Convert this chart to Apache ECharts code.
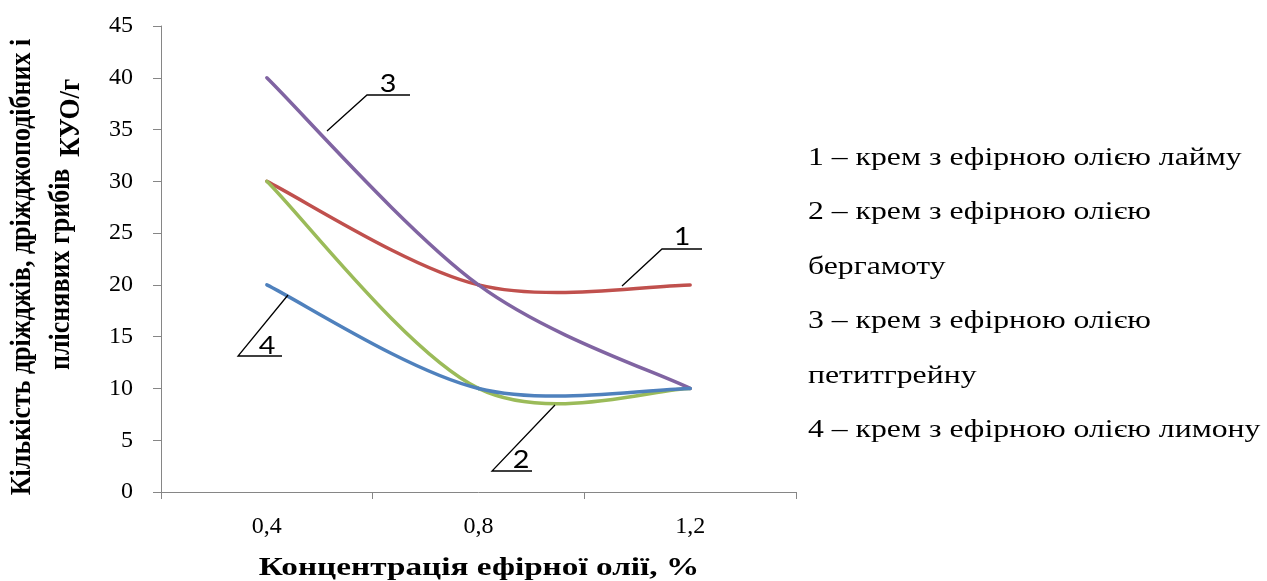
<!DOCTYPE html>
<html><head><meta charset="utf-8">
<script src="https://cdn.jsdelivr.net/npm/echarts@6/dist/echarts.min.js"></script>
<style>html,body{margin:0;padding:0;background:#fff}#c{width:1267px;height:581px}</style>
</head><body><div id="c"></div>
<script>
const categories = ['0,4', '0,8', '1,2'];
const s1 = [30, 20, 20]; // лайму
const s2 = [30, 10, 10]; // бергамоту
const s3 = [40, 20, 10]; // петитгрейну
const s4 = [20, 10, 10]; // лимону
const yTicks = {min: 0, max: 45, interval: 5};
const legendLines = [
  '1 – крем з ефірною олією лайму',
  '2 – крем з ефірною олією',
  'бергамоту',
  '3 – крем з ефірною олією',
  'петитгрейну',
  '4 – крем з ефірною олією лимону'
];
const yName1 = 'Кількість дріжджів, дріжджоподібних і';
const yName2 = 'пліснявих грибів';
const yName3 = 'КУО/г';
const xName = 'Концентрація ефірної олії, %';

const serif = '"Liberation Serif", "DejaVu Serif", serif';
const axisColor = '#868686';
const chart = echarts.init(document.getElementById('c'));

// Excel-style smoothed line (Catmull-Rom, tension 1/6) drawn through the axis scales
function smoothSeries(values, color) {
  return {
    type: 'custom',
    data: values.map(function (v, i) { return [i, v]; }),
    encode: {x: 0, y: 1},
    z: 3,
    renderItem: function (params, api) {
      const i = params.dataIndexInside;
      const n = params.dataInsideLength;
      if (i >= n - 1) return null;
      function pt(k) {
        k = Math.max(0, Math.min(n - 1, k));
        return api.coord([api.value(0, k), api.value(1, k)]);
      }
      const p0 = pt(i - 1), p1 = pt(i), p2 = pt(i + 1), p3 = pt(i + 2);
      return {
        type: 'bezierCurve',
        shape: {
          x1: p1[0], y1: p1[1], x2: p2[0], y2: p2[1],
          cpx1: p1[0] + (p2[0] - p0[0]) / 6, cpy1: p1[1] + (p2[1] - p0[1]) / 6,
          cpx2: p2[0] - (p3[0] - p1[0]) / 6, cpy2: p2[1] - (p3[1] - p1[1]) / 6
        },
        style: {stroke: color, lineWidth: 3.5, fill: null, lineCap: 'round'}
      };
    }
  };
}

// annotation callouts (leader line + number)
function callout(num, ux1, ux2, uy, dx, dy, tx, ty) {
  return [
    {type: 'polyline', shape: {points: [[ux2, uy], [ux1, uy], [dx, dy]]},
      style: {stroke: '#000', lineWidth: 1.3, fill: null}, z: 10},
    {type: 'text', x: tx, y: ty, scaleX: 1.15, style: {text: num, font: '25px Lato, "Open Sans", sans-serif',
      fill: '#000', align: 'center', verticalAlign: 'middle'}, z: 10}
  ];
}

const graphics = [].concat(
  callout('3', 367, 410, 95, 327, 131, 388, 84),
  callout('1', 662, 702, 249, 622, 286, 682, 237),
  callout('4', 238, 282, 356, 288, 295, 267, 346),
  callout('2', 492, 532, 471, 555, 405, 521, 460)
);
legendLines.forEach(function (t, i) {
  graphics.push({type: 'text', x: 808, y: 158 + i * 54.5, scaleX: 1.22,
    style: {text: t, font: '26px ' + serif, fill: '#000', verticalAlign: 'middle'}});
});
graphics.push({type: 'text', x: 23, y: 267, rotation: Math.PI / 2, scaleY: 1.1,
  style: {text: yName1, font: 'bold 26px ' + serif, fill: '#000', align: 'center', verticalAlign: 'middle'}});
graphics.push({type: 'text', x: 62, y: 370, rotation: Math.PI / 2, scaleY: 1.1,
  style: {text: yName2, font: 'bold 26px ' + serif, fill: '#000', align: 'left', verticalAlign: 'middle'}});
graphics.push({type: 'text', x: 71, y: 157, rotation: Math.PI / 2, scaleY: 1.1,
  style: {text: yName3, font: 'bold 27px ' + serif, fill: '#000', align: 'left', verticalAlign: 'middle'}});
graphics.push({type: 'text', x: 479, y: 569, scaleX: 1.33,
  style: {text: xName, font: 'bold 25px ' + serif, fill: '#000', align: 'center', verticalAlign: 'middle'}});

chart.setOption({
  animation: false,
  grid: {left: 161, right: 471, top: 26, bottom: 89, containLabel: false},
  xAxis: {
    type: 'category', data: categories, boundaryGap: true,
    axisLine: {lineStyle: {color: axisColor, width: 1}},
    axisTick: {show: true, length: 7, lineStyle: {color: axisColor}},
    axisLabel: {fontFamily: serif, fontSize: 24, color: '#000', margin: 23}
  },
  yAxis: {
    type: 'value', min: yTicks.min, max: yTicks.max, interval: yTicks.interval,
    splitLine: {show: false},
    axisLine: {show: true, lineStyle: {color: axisColor, width: 1}},
    axisTick: {show: true, length: 8, lineStyle: {color: axisColor}},
    axisLabel: {fontFamily: serif, fontSize: 24, color: '#000', margin: 28}
  },
  series: [smoothSeries(s1, '#C0504D'), smoothSeries(s2, '#9BBB59'),
           smoothSeries(s3, '#8064A2'), smoothSeries(s4, '#4F81BD')],
  graphic: graphics
});
</script></body></html>
